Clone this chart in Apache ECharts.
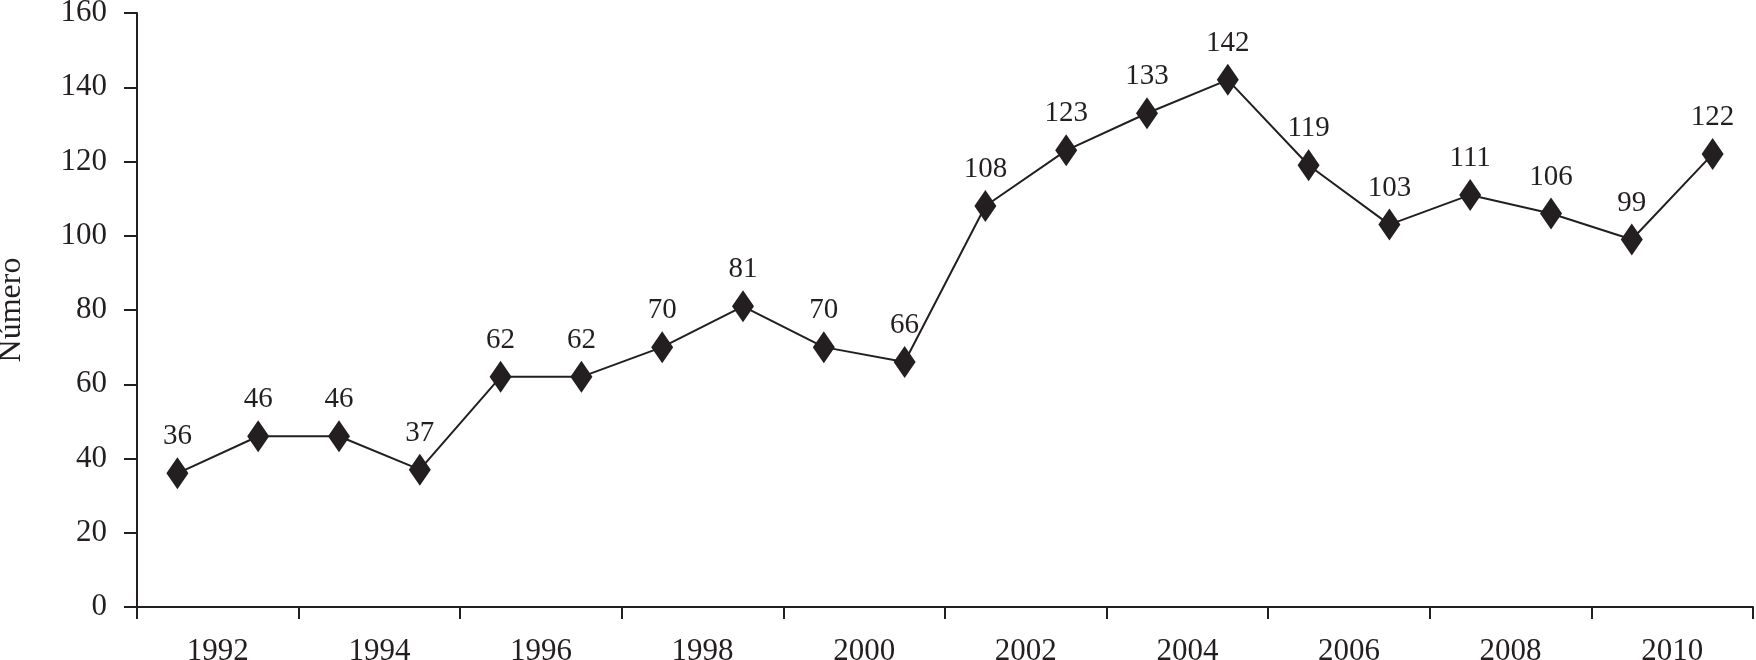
<!DOCTYPE html>
<html>
<head>
<meta charset="utf-8">
<script src="https://cdn.jsdelivr.net/npm/echarts@6/dist/echarts.min.js"></script>
<style>
html,body{margin:0;padding:0;background:#fff;}
#chart{width:1756px;height:660px;}
</style>
</head>
<body>
<div id="chart"></div>
<script>
const years = ['1992','1993','1994','1995','1996','1997','1998','1999','2000','2001','2002','2003','2004','2005','2006','2007','2008','2009','2010','2011'];
const values = [36,46,46,37,62,62,70,81,70,66,108,123,133,142,119,103,111,106,99,122];
const yearTickLabels = ['1992','1994','1996','1998','2000','2002','2004','2006','2008','2010'];
const yAxisName = 'Número';

const ink = '#231f20';
const font = '"Liberation Serif", "Times New Roman", serif';

const chart = echarts.init(document.getElementById('chart'));
chart.setOption({
  backgroundColor: '#fff',
  animation: false,
  grid: {left: 137, right: 3, top: 13, bottom: 53, containLabel: false, outerBoundsMode: 'none'},
  xAxis: [
    {type: 'category', data: years, boundaryGap: true, show: false},
    {type: 'category', data: yearTickLabels, boundaryGap: true, position: 'bottom',
     axisLine: {show: true, lineStyle: {color: ink, width: 2}},
     axisTick: {show: true, alignWithLabel: false, length: 12, lineStyle: {color: ink, width: 2}},
     axisLabel: {color: ink, fontFamily: font, fontSize: 31, margin: 29},
     splitLine: {show: false}}
  ],
  yAxis: {
    type: 'value', min: 0, max: 160, interval: 20,
    name: yAxisName, nameLocation: 'middle', nameGap: 109, nameRotate: 90,
    nameTextStyle: {color: ink, fontFamily: font, fontSize: 32},
    axisLine: {show: true, lineStyle: {color: ink, width: 2}},
    axisTick: {show: true, inside: false, length: 13, lineStyle: {color: ink, width: 2}},
    axisLabel: {color: ink, fontFamily: font, fontSize: 31, margin: 30},
    splitLine: {show: false}
  },
  series: [{
    type: 'line', xAxisIndex: 0, data: values,
    symbol: 'diamond', symbolSize: [22, 32],
    lineStyle: {color: ink, width: 2},
    itemStyle: {color: ink},
    label: {show: true, position: 'top', distance: 6, color: ink, fontFamily: font, fontSize: 29}
  }]
});
</script>
</body>
</html>
